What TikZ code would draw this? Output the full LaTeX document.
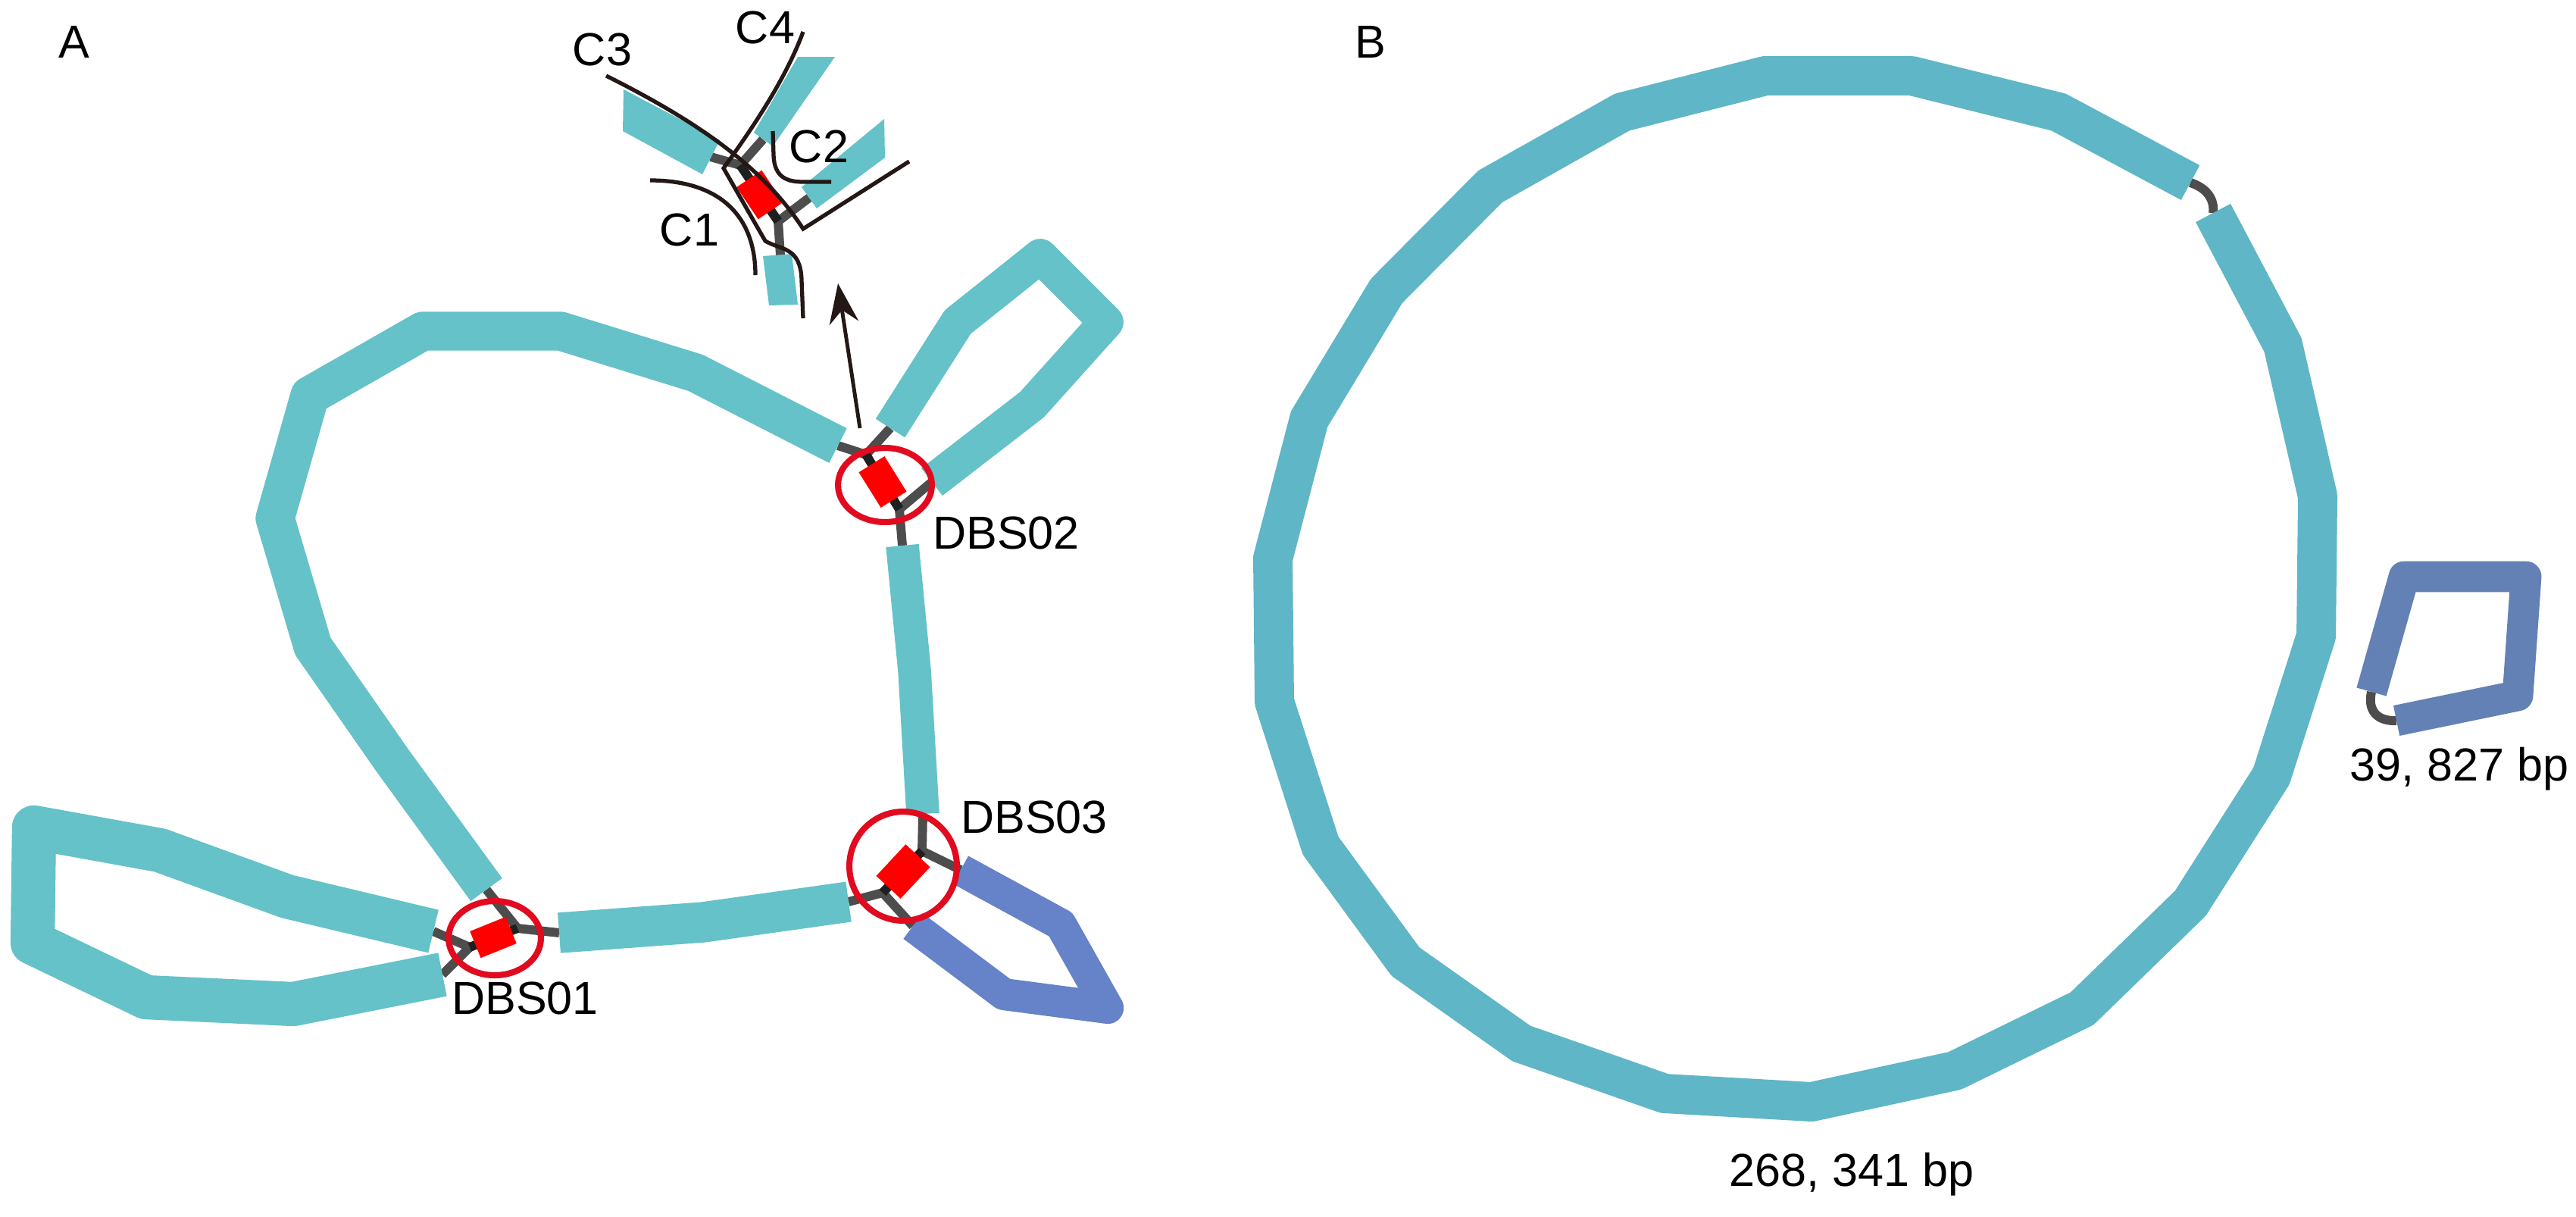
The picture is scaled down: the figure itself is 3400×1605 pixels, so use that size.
\documentclass[tikz,border=0pt]{standalone}
\usepackage{fontspec}
\setmainfont{Liberation Sans}
\usetikzlibrary{shapes.geometric,arrows.meta}
\definecolor{bandA}{HTML}{64C2C8}
\definecolor{bandB}{HTML}{5FB6C6}
\definecolor{loopblue}{HTML}{6682C8}
\definecolor{loopblueB}{HTML}{6481B6}
\definecolor{linkgray}{HTML}{4D4D4D}
\definecolor{ringred}{HTML}{E10A1E}
\definecolor{inkline}{HTML}{231815}
\begin{document}
\begin{tikzpicture}[x=0.005cm, y=-0.005cm,
  band/.style={line width=#1, line join=round, draw=bandA},
  link/.style={draw=linkgray, line width=1.7pt},
  core/.style={draw=black!88, line width=1.7pt},
  brk/.style={rectangle, fill=red, inner sep=0pt, minimum width=#1},
  dbsring/.style={ellipse, draw=ringred, line width=1.15pt, inner sep=0pt},
  curv/.style={draw=inkline, line width=0.75pt},
  lbl/.style={inner sep=0pt, font=\fontsize{8.7}{10}\selectfont}]
\useasboundingbox (0,0) rectangle (3400,1605);
\node[lbl] (pa) at (98,55){A};
\node[lbl] (pb) at (1809,55){B};
\coordinate (lo1) at (572,1229);
\coordinate (lo2) at (584,1286);
\coordinate (bg1) at (642,1174);
\coordinate (bg2) at (1106,588);
\coordinate (hz1) at (738,1231);
\coordinate (hz2) at (1120,1190);
\coordinate (vt1) at (1191,720);
\coordinate (vt2) at (1218,1074);
\coordinate (tr1) at (1175,565);
\coordinate (tr2) at (1230,636);
\coordinate (bl1) at (1268,1148);
\coordinate (bl2) at (1205,1222);
\coordinate (j1a) at (620,1250);
\coordinate (j1b) at (683,1225);
\coordinate (j2a) at (1143,600);
\coordinate (j2b) at (1187,672);
\coordinate (j3a) at (1217,1123);
\coordinate (j3b) at (1165,1178);
\draw[link](lo1) -- (j1a);
\draw[link](lo2) -- (j1a);
\draw[link](bg1) -- (j1b);
\draw[link](hz1) -- (j1b);
\draw[link](bg2) -- (j2a);
\draw[link](tr1) -- (j2a);
\draw[link](j2b) -- (tr2);
\draw[link](j2b) -- (vt1);
\draw[link](vt2) -- (j3a);
\draw[link](j3a) -- (bl1);
\draw[link](j3b) -- (hz2);
\draw[link](j3b) -- (bl2);
\draw[band=8.3pt](lo1) -- (379,1183) -- (211,1122) -- (45,1092) -- (43,1244) -- (193,1316) -- (387,1325) -- (lo2);
\draw[band=7.3pt](bg1) -- (519,1005) -- (413,853) -- (363,684) -- (409,522) -- (558,437) -- (740,437) -- (918,492) -- (bg2);
\draw[band=7.6pt](hz1) -- (928,1217) -- (hz2);
\draw[band=6.2pt](vt1) -- (1207,885) -- (vt2);
\draw[band=6.5pt](tr1) -- (1264,425) -- (1373,338) -- (1460,425) -- (1362,534) -- (tr2);
\draw[band=6pt, draw=loopblue](bl1) -- (1400,1220) -- (1462,1330) -- (1325,1312) -- (bl2);
\draw[core](j1a) -- (j1b);
\draw[core](j2a) -- (j2b);
\draw[core](j3a) -- (j3b);
\node[brk=0.255cm, minimum height=0.19cm, rotate=22] (dbs1) at (651,1237){};
\node[brk=0.275cm, minimum height=0.2cm, rotate=-58] (dbs2) at (1165,636){};
\node[brk=0.285cm, minimum height=0.22cm, rotate=47] (dbs3) at (1192,1150){};
\node[dbsring, minimum width=0.61cm, minimum height=0.49cm] (ring1) at (653,1238){};
\node[dbsring, minimum width=0.62cm, minimum height=0.49cm] (ring2) at (1168,640){};
\node[dbsring, minimum width=0.71cm, minimum height=0.72cm] (ring3) at (1192,1143){};
\node[lbl] (t1) at (693,1317){DBS01};
\node[lbl] (t2) at (1328,703){DBS02};
\node[lbl] (t3) at (1365,1078){DBS03};
\coordinate (ar1) at (1135,565);
\coordinate (ar2) at (1106,374);
\draw[-{Stealth[length=7.5pt,width=5.5pt]}, line width=0.7pt, draw=inkline, fill=inkline](ar1) -- (ar2);
\coordinate (c3e) at (938,207);
\coordinate (c4e) at (1007,184);
\coordinate (c2e) at (1068,261);
\coordinate (c1e) at (1030,337);
\coordinate (j0a) at (977,218);
\coordinate (j0b) at (1027,292);
\draw[link](c3e) -- (j0a);
\draw[link](c4e) -- (j0a);
\draw[link](j0b) -- (c2e);
\draw[link](j0b) -- (c1e);
\fill[bandA] (823,118) -- (950,185) -- (927,230) -- (822,173) -- cycle;
\fill[bandA] (1053,75) -- (1102,75) -- (1020,193) -- (995,175) -- cycle;
\fill[bandA] (1167,157) -- (1168,208) -- (1078,275) -- (1058,247) -- cycle;
\fill[bandA] (1007,338) -- (1045,335) -- (1053,402) -- (1015,403) -- cycle;
\draw[core](j0a) -- (j0b);
\node[brk=0.255cm, minimum height=0.2cm, rotate=-56] (dbs0) at (1003,257){};
\draw[curv] (800,100) .. controls (930,165) and (1010,225) .. (1060,302) -- (1200,213);
\draw[curv] (1060,42) .. controls (1035,110) and (985,180) .. (955,222) -- (1010,318) .. controls (1030,330) and (1057,325) .. (1058,370) -- (1060,420);
\draw[curv] (858,238) .. controls (950,238) and (997,285) .. (997,363);
\draw[curv] (1020,173) -- (1021,205) .. controls (1022,235) and (1040,240) .. (1060,240) -- (1097,240);
\node[lbl] (tc3) at (795,65){C3};
\node[lbl] (tc4) at (1010,36){C4};
\node[lbl] (tc2) at (1081,193){C2};
\node[lbl] (tc1) at (910,303){C1};
\coordinate (rg1) at (2921,281);
\coordinate (rg2) at (2891,241);
\draw[link](rg2) .. controls (2912,248) and (2923,262) .. (rg1);
\draw[band=7.4pt, draw=bandB](rg1) -- (3013,455) -- (3059,655) -- (3057,839) -- (2998,1024) -- (2891,1192) -- (2748,1331) -- (2580,1413) -- (2391,1454) -- (2197,1443) -- (2008,1377) -- (1855,1269) -- (1743,1116) -- (1682,926) -- (1680,737) -- (1728,553) -- (1830,384) -- (1967,246) -- (2141,148) -- (2330,100) -- (2523,100) -- (2717,148) -- (rg2);
\coordinate (sm1) at (3130,913);
\coordinate (sm2) at (3163,951);
\draw[link](sm1) .. controls (3124,940) and (3140,952) .. (sm2);
\draw[band=5.8pt, draw=loopblueB](sm1) -- (3173,761) -- (3334,761) -- (3323,918) -- (sm2);
\node[lbl] (tb1) at (2444,1550){268, 341 bp};
\node[lbl] (tb2) at (3246,1015){39, 827 bp};
\end{tikzpicture}
\end{document}
